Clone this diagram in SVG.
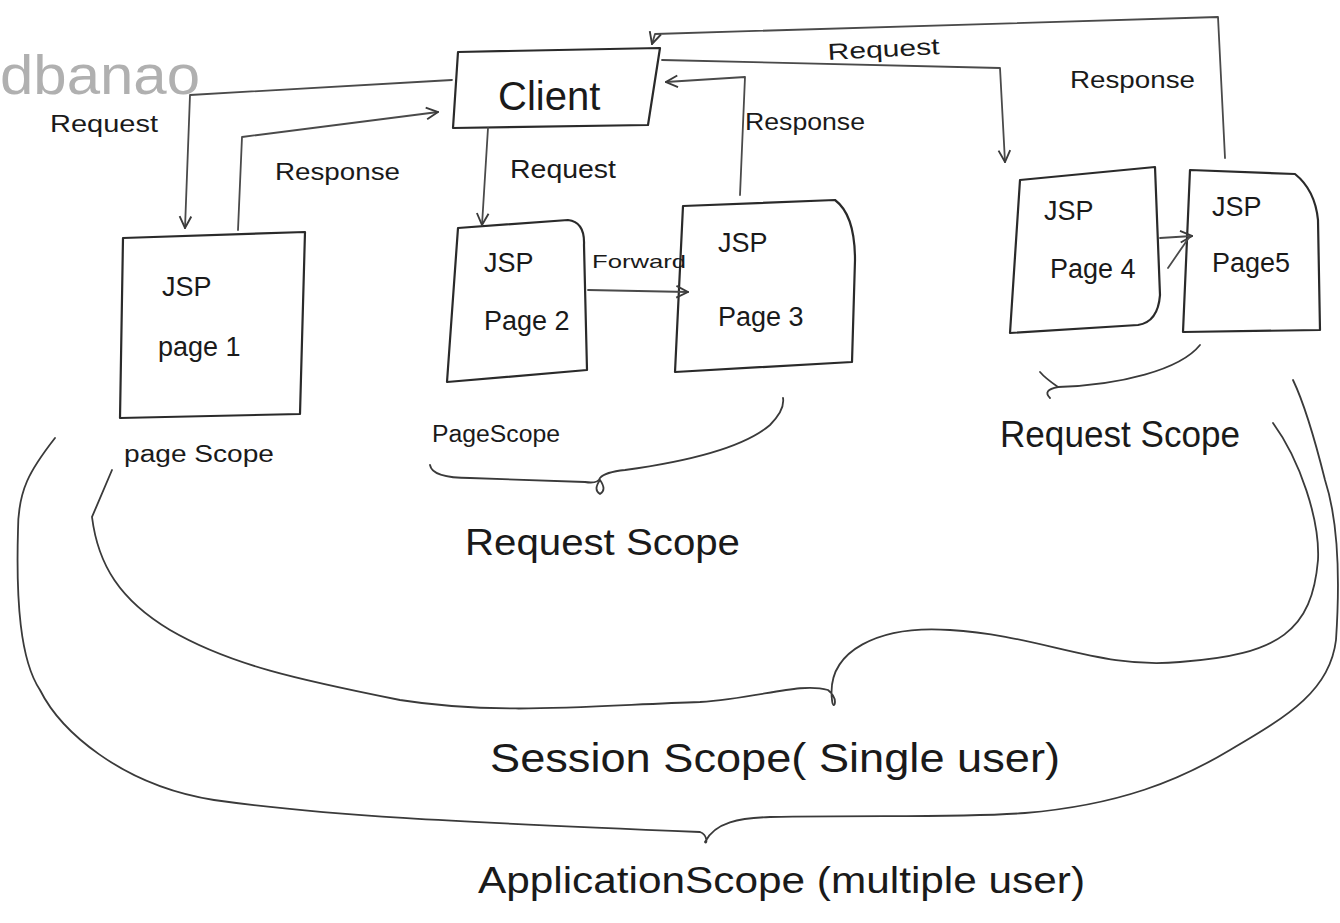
<svg xmlns="http://www.w3.org/2000/svg" width="1340" height="923" viewBox="0 0 1340 923">
  <style>
    .box { fill: none; stroke: #2a2a2a; stroke-width: 2.2; stroke-linejoin: round; stroke-linecap: round; }
    .wire { fill: none; stroke: #4a4a4a; stroke-width: 1.8; stroke-linecap: round; stroke-linejoin: round; }
    .scope { fill: none; stroke: #3a3a3a; stroke-width: 1.8; stroke-linecap: round; }
    .hand { font-family: "Liberation Sans", "DejaVu Sans", sans-serif; fill: #1a1a1a; }
    .lbl { font-size: 23px; }
    .node { font-size: 27px; }
    .big { font-size: 37px; }
    .mark { font-family: "Liberation Sans", Arial, sans-serif; font-size: 56px; fill: #b0b0b0; }
  </style>
  <defs>
    <marker id="arr" viewBox="0 0 12 12" refX="11" refY="6" markerWidth="14" markerHeight="14" markerUnits="userSpaceOnUse" orient="auto">
      <path d="M1,1 L11,6 L1,11" fill="none" stroke="#3a3a3a" stroke-width="1.6"/>
    </marker>
  </defs>
  <rect width="1340" height="923" fill="#ffffff"/>

  <text class="mark" x="0" y="94" textLength="200" lengthAdjust="spacingAndGlyphs">dbanao</text>

  <!-- client -->
  <g id="client">
    <path class="box" d="M458,52 L660,48 L648,125 L453,128 Z"/>
    <text class="hand" x="498" y="110" font-size="40">Client</text>
  </g>

  <!-- JSP pages -->
  <g id="page1">
    <path class="box" d="M123,238 L305,232 L300,414 L120,418 Z"/>
    <text class="hand node" x="162" y="296">JSP</text>
    <text class="hand node" x="158" y="356">page 1</text>
  </g>
  <g id="page2">
    <path class="box" d="M458,228 L568,220 Q585,222 584,245 L587,370 L447,382 Z"/>
    <text class="hand node" x="484" y="272">JSP</text>
    <text class="hand node" x="484" y="330">Page 2</text>
  </g>
  <g id="page3">
    <path class="box" d="M683,206 L835,200 Q855,215 855,260 L852,362 L675,372 Z"/>
    <text class="hand node" x="718" y="252">JSP</text>
    <text class="hand node" x="718" y="326">Page 3</text>
  </g>
  <g id="page4">
    <path class="box" d="M1020,180 L1155,167 L1160,295 Q1158,322 1138,325 L1010,333 Z"/>
    <text class="hand node" x="1044" y="220">JSP</text>
    <text class="hand node" x="1050" y="278">Page 4</text>
  </g>
  <g id="page5">
    <path class="box" d="M1190,170 L1295,174 Q1315,190 1318,220 L1320,330 L1183,332 Z"/>
    <text class="hand node" x="1212" y="216">JSP</text>
    <text class="hand node" x="1212" y="272">Page5</text>
  </g>

  <!-- request / response wiring -->
  <g id="connectors">
    <path class="wire" d="M452,80 L190,95 L185,228" marker-end="url(#arr)"/>
    <path class="wire" d="M238,230 L242,137 L438,112" marker-end="url(#arr)"/>
    <path class="wire" d="M488,128 L482,225" marker-end="url(#arr)"/>
    <path class="wire" d="M588,290 L688,292" marker-end="url(#arr)"/>
    <path class="wire" d="M740,195 L745,77 L666,82" marker-end="url(#arr)"/>
    <path class="wire" d="M662,60 L1000,68 L1005,162" marker-end="url(#arr)"/>
    <path class="wire" d="M1225,158 L1218,17 L655,34 L652,44" marker-end="url(#arr)"/>
    <path class="wire" d="M1160,238 L1192,236" marker-end="url(#arr)"/>
    <path class="wire" d="M1168,268 L1190,236"/>

    <text class="hand lbl" x="50" y="132" textLength="108" lengthAdjust="spacingAndGlyphs">Request</text>
    <text class="hand lbl" x="275" y="180" textLength="125" lengthAdjust="spacingAndGlyphs">Response</text>
    <text class="hand" x="510" y="178" font-size="26" textLength="106" lengthAdjust="spacingAndGlyphs">Request</text>
    <text class="hand lbl" x="745" y="130" textLength="120" lengthAdjust="spacingAndGlyphs">Response</text>
    <text class="hand lbl" x="828" y="60" transform="rotate(-3 828 60)" textLength="112" lengthAdjust="spacingAndGlyphs">Request</text>
    <text class="hand lbl" x="1070" y="88" textLength="125" lengthAdjust="spacingAndGlyphs">Response</text>
    <text class="hand" x="592" y="268" font-size="19" textLength="94" lengthAdjust="spacingAndGlyphs">Forward</text>
  </g>

  <!-- scope brackets -->
  <g id="scopes">
    <path class="scope" d="M430,465 Q432,478 470,478 L585,482 Q598,484 600,478 Q605,472 625,470 Q735,455 770,425 Q785,410 783,398"/>
    <path class="scope" d="M600,480 Q593,490 600,494 Q607,490 600,480"/>
    <path class="scope" d="M1200,345 C1180,370 1120,385 1058,387 Q1042,390 1050,398"/>
    <path class="scope" d="M1058,387 Q1045,378 1040,372"/>

    <!-- session scope -->
    <path class="scope" d="M112,470 L92,517 C98,565 120,600 170,630 C230,665 300,680 400,700 C500,716 600,705 700,702 C760,698 800,682 828,690 C840,700 833,712 832,700 C826,650 880,625 950,630 C1040,635 1100,670 1180,662 C1280,655 1312,630 1318,560 C1320,520 1300,460 1273,423"/>
    <!-- application scope -->
    <path class="scope" d="M55,438 C30,470 18,490 18,530 C16,600 20,660 40,690 C60,730 120,785 214,800 C320,815 450,822 700,832 C708,835 707,845 705,842 C715,822 740,818 770,817 C880,815 960,818 1025,813 C1120,805 1180,780 1230,750 C1290,715 1330,690 1336,640 C1340,580 1338,520 1325,480 C1315,440 1305,405 1293,380"/>

    <text class="hand lbl" x="124" y="462" textLength="150" lengthAdjust="spacingAndGlyphs">page Scope</text>
    <text class="hand lbl" x="432" y="442" textLength="128" lengthAdjust="spacingAndGlyphs">PageScope</text>
    <text class="hand big" x="465" y="555" textLength="275" lengthAdjust="spacingAndGlyphs">Request Scope</text>
    <text class="hand big" x="1000" y="447" textLength="240" lengthAdjust="spacingAndGlyphs">Request Scope</text>
    <text class="hand" x="490" y="772" font-size="40" textLength="570" lengthAdjust="spacingAndGlyphs">Session Scope( Single user)</text>
    <text class="hand big" x="478" y="893" textLength="607" lengthAdjust="spacingAndGlyphs">ApplicationScope (multiple user)</text>
  </g>
</svg>
